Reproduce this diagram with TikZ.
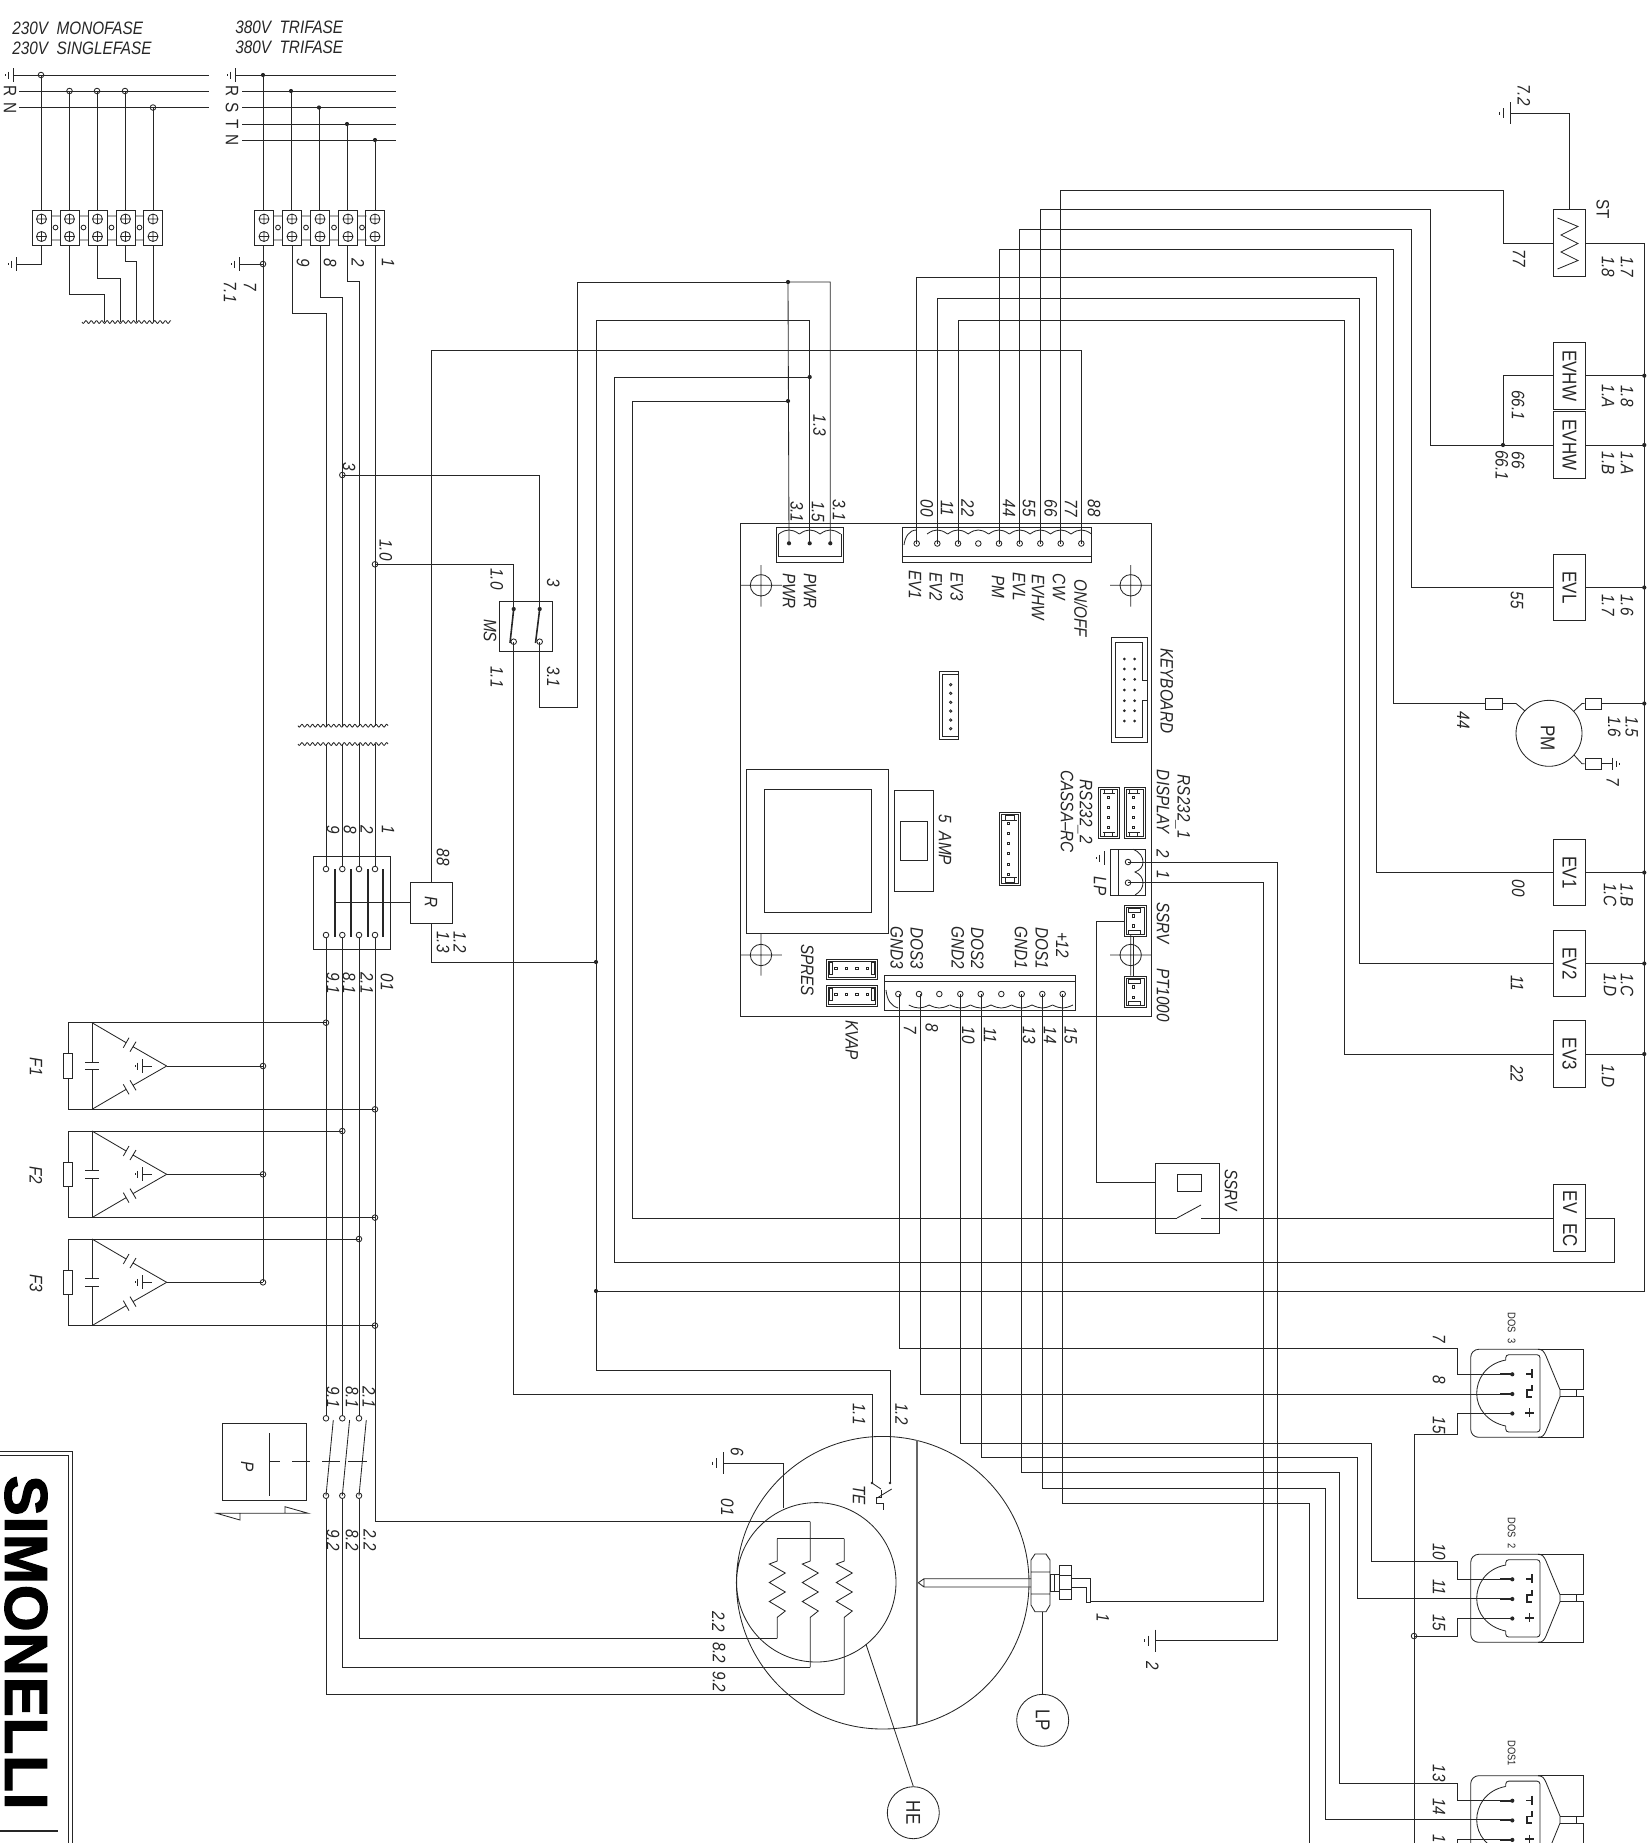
\documentclass[tikz,border=0pt]{standalone}
\usepackage{fontspec}
\setmainfont[FakeStretch=0.85]{Liberation Sans}
\newfontfamily\logofont[LetterSpace=1.5,BoldFeatures={FakeBold=2.2}]{Liberation Sans}
\newcommand\lblfont{\fontsize{9}{9}\selectfont}
\newcount\lbn
\tikzset{
  wire/.style={line width=.42pt,black!85},
  rl/.style={rotate=-90,inner sep=0pt,font=\lblfont\itshape,black!85},
  ru/.style={rotate=-90,inner sep=0pt,font=\lblfont,black!85},
  hl/.style={inner sep=0pt,font=\lblfont\itshape,anchor=west,black!85},
  devbox/.style={draw=black!85,line width=.42pt,inner sep=0pt,font=\lblfont},
  bigtxt/.style={font=\fontsize{10}{10}\selectfont},
}
\newcommand\myLab[3]{\global\advance\lbn by 1 \node[rl] (t\the\lbn) at (#1,#2) {#3};}
\newcommand\myUp[3]{\global\advance\lbn by 1 \node[ru] (t\the\lbn) at (#1,#2) {#3};}
\newcommand\opn[2]{\draw (#1,#2) circle[radius=2.8];}
\newcommand\fdot[2]{\fill (#1,#2) circle[radius=2.1];}
\newcommand\spin[2]{\draw (#1-1.2,#2-1.2) rectangle (#1+1.2,#2+1.2);}
\newcommand\gndL[2]{\draw (#1,#2-7) -- (#1,#2+7) (#1-5,#2-3.5) -- (#1-5,#2+3.5) (#1-7.5,#2-1) -- (#1-7.5,#2+1);}
\newcommand\gndB[2]{\draw (#1,#2-11) -- (#1,#2+11) (#1-7,#2-5) -- (#1-7,#2+5) (#1-11,#2-1.5) -- (#1-11,#2+1.5);}
\newcommand\wav[3]{\draw plot[domain=#1:#2,samples=120] (\x,{#3+1.4*sin((\x-#1)*68)});}
\newcommand\target[4]{\draw (#1,#2) circle[radius=10.7] (#3,#2) -- (#3+41.5,#2) (#1,#4) -- (#1,#4+41.5);}
\newcommand\term[1]{\draw (#1-9.5,210) rectangle (#1+9.5,245.5);
  \foreach \yy in {219,236.5}{\draw (#1,\yy) circle[radius=5] (#1-4.2,\yy) -- (#1+4.2,\yy) (#1,\yy-4.2) -- (#1,\yy+4.2);}}
\newcommand\termlink[1]{\draw (#1+9.5,216) -- (#1+18.5,216) (#1+9.5,240) -- (#1+18.5,240) (#1+14,227.5) circle[radius=2.4];}
\newcommand\scalT[1]{\draw (#1-10.3,534) .. controls (#1-6,531) and (#1-3,530) .. (#1,530) .. controls (#1+3,530) and (#1+6,531) .. (#1+10.3,534);}
\newcommand\scalB[1]{\draw (#1-10.2,1005) .. controls (#1-6,1007) and (#1-3,1008) .. (#1,1008) .. controls (#1+3,1008) and (#1+6,1007) .. (#1+10.2,1005);}
\newcommand\jst[4]{\draw (#1,#2) rectangle (#3,#4) (#1+2,#2+2) rectangle (#3-2,#4-2);}
\newcommand\heater[3]{\draw (#1,#2) -- (#1,1561) -- (#1-8,1564) -- (#1+8,1573) -- (#1-8,1582.5) -- (#1+8,1592) -- (#1-8,1601.5) -- (#1+8,1611) -- (#1,1617.3) -- (#1,#3);}
\newcommand\fuseunit[3]{\begin{scope}[shift={(0,#1)}]
  \draw (#2,0) -- (68.3,0) -- (68.3,31) (63.5,31) rectangle (72.7,55.6) (68.3,55.6) -- (68.3,86.6) -- (375,86.6);
  \draw (92,0) -- (92,39.3) (85,39.3) -- (98.7,39.3) (85,47) -- (98.7,47) (92,47) -- (92,86.6);
  \draw (92,0) -- (126.2,20) (123.3,25) -- (129,15) (130,29) -- (136,19) (133,24) -- (166.7,43.3);
  \draw (92,86.6) -- (126.2,66.6) (123.3,61.6) -- (129,71.6) (130,57.6) -- (136,67.6) (133,62.6) -- (166.7,43.3);
  \draw (166.7,43.3) -- (263,43.3);
  \gndL{142.7}{43.3}
  \draw (142.7,43.3) -- (151.7,43.3);
  \opn{#2}{0} \opn{375}{86.6} \opn{263}{43.3}
  \myLab{36}{44}{#3}
\end{scope}}
\newcommand\dosunit[1]{\begin{scope}[shift={(0,#1)}]
  \draw[rounded corners=4pt] (1540,1349.3) -- (1470.7,1349.3) -- (1470.7,1437.3) -- (1540,1437.3);
  \draw (1538,1349.3) .. controls (1543,1349.3) and (1544,1352) .. (1546,1356) -- (1560,1389.7) -- (1560,1396.7) -- (1546,1431) .. controls (1544,1435) and (1543,1437.3) .. (1538,1437.3);
  \draw (1538,1349.3) -- (1583.3,1349.3) -- (1583.3,1389.7) -- (1560,1389.7) (1560,1396.7) -- (1583.3,1396.7) -- (1583.3,1437.3) -- (1538,1437.3) (1576,1389.7) -- (1576,1396.7);
  \draw[rounded corners=1.5pt] (1505.7,1360) -- (1505.7,1354.7) -- (1540,1354.7) -- (1540,1432) -- (1505.7,1432) -- (1505.7,1426);
  \draw (1505.7,1360) .. controls (1485,1364) and (1476.7,1380) .. (1476.7,1393.5) .. controls (1476.7,1408) and (1487,1422) .. (1505.7,1426);
  \foreach \yy in {1374.3,1394,1413.5}{\draw[line width=.9pt] (1500,\yy) -- (1512.3,\yy); \fdot{1512.3}{\yy}}
  \draw[line width=.8pt] (1526,1374) -- (1532,1374) (1532,1369.3) -- (1532,1378.3);
  \draw[line width=.8pt] (1532,1385) -- (1532,1390) -- (1526.7,1390) -- (1526.7,1396.7) -- (1532,1396.7);
  \draw[line width=.8pt] (1525,1412.7) -- (1534,1412.7) (1529.3,1408.2) -- (1529.3,1417.2);
\end{scope}}
\begin{document}
\begin{tikzpicture}[x=.5pt,y=-.5pt,line width=.42pt,color=black!85]
\useasboundingbox (0,0) rectangle (1652,1843);
\clip (0,0) rectangle (1652,1843);
% ---------- titles
\node[hl] (tt1) at (12,28) {230V\ \ MONOFASE};
\node[hl] (tt2) at (12,48) {230V\ \ SINGLEFASE};
\node[hl] (tt3) at (235,27) {380V\ \ TRIFASE};
\node[hl] (tt4) at (235,47) {380V\ \ TRIFASE};
% ---------- monophase supply
\draw (13,75) -- (209,75) (19,91) -- (209,91) (19,107.5) -- (209,107.5);
\gndL{13}{75}
\myUp{10}{91}{R}\myUp{10}{108}{N}
\foreach \xx/\yy in {41/75,69.5/91,97/91,125/91,153/107.5}{\draw (\xx,\yy) -- (\xx,210); \opn{\xx}{\yy}}
\foreach \xx in {41.5,69.5,97.5,125.5,153}{\term{\xx}}
\foreach \xx in {41.5,69.5,97.5,125.5}{\termlink{\xx}}
\draw (41,245.5) -- (41,264) -- (16,264); \gndL{16}{264}
\draw (69.5,245.5) -- (69.5,294) -- (104.5,294) -- (104.5,322);
\draw (97,245.5) -- (97,278) -- (120.5,278) -- (120.5,322);
\draw (125,245.5) -- (125,261.5) -- (136.5,261.5) -- (136.5,322);
\draw (153,245.5) -- (153,322);
\wav{82}{171}{322}
% ---------- three phase supply
\draw (235,75) -- (396,75) (242,91) -- (396,91) (242,107.5) -- (396,107.5) (242,124) -- (396,124) (242,140) -- (396,140);
\gndL{235}{75}
\myUp{232}{91}{R}\myUp{232}{108}{S}\myUp{232}{124}{T}\myUp{232}{140}{N}
\foreach \xx/\yy in {263/75,291/91,319/107.5,347/124,375/140}{\draw (\xx,\yy) -- (\xx,210); \fdot{\xx}{\yy}}
\foreach \xx in {264,292,320,348,375}{\term{\xx}}
\foreach \xx in {264,292,320,348}{\termlink{\xx}}
\draw (263,245.5) -- (263,1282.3);
\draw (263,264) -- (239,264); \gndL{239}{264} \opn{263}{264}
\draw (292,245.5) -- (292,313) -- (326,313) -- (326,725.7);
\draw (320,245.5) -- (320,297) -- (342.3,297) -- (342.3,725.7);
\draw (347,245.5) -- (347,281) -- (359,281) -- (359,725.7);
\draw (375,245.5) -- (375,725.7);
\myLab{250}{287}{7}\myLab{230}{292}{7.1}\myLab{303}{263}{9}\myLab{330}{263}{8}\myLab{358}{263}{2}\myLab{388}{263}{1}
\wav{298}{388}{725.7}\wav{298}{388}{744}
\draw (326,744) -- (326,866) (342.3,744) -- (342.3,866) (359,744) -- (359,866) (375,744) -- (375,866);
\myLab{333}{830}{9}\myLab{350}{830}{8}\myLab{367}{830}{2}\myLab{388}{830}{1}
% ---------- contactor and R
\node[devbox,minimum width=38.5pt,minimum height=46.5pt] (KM) at (352,902.5) {};
\foreach \xx in {326,342.3,359,375}{\opn{\xx}{869}\opn{\xx}{935}\draw (\xx,938) -- (\xx,1022);}
\foreach \xx in {334.7,351,368,383}{\draw[line width=.9pt] (\xx,869) -- (\xx,937);}
\node[devbox,minimum width=21pt,minimum height=20.5pt] (R) at (431,902.5) {\rotatebox{-90}{\itshape R}};
\coordinate (kmbar) at (334.7,902.5);
\draw (kmbar) -- (R.west);
\myLab{333}{983}{9.1}\myLab{349}{983}{8.1}\myLab{367}{983}{2.1}\myLab{387}{982}{01}
\myLab{443}{857}{88}\myLab{443}{942}{1.3}\myLab{460}{942}{1.2}
\draw (375,938) -- (375,1521.7) -- (810.3,1521.7);
\draw (326,1022) -- (326,1415.5) (342.3,1022) -- (342.3,1415.5) (359,1022) -- (359,1415.5);
% ---------- fuses
\fuseunit{1022.7}{326}{F1}
\fuseunit{1131}{342.3}{F2}
\fuseunit{1239}{359}{F3}
% ---------- pressure switch
\node[devbox,minimum width=42pt,minimum height=38.5pt] (P) at (264.3,1462.2) {};
\myLab{247.3}{1466.7}{P}
\draw (269,1433) -- (269,1495.7);
\draw (269,1461.7) -- (280,1461.7) (292,1461.7) -- (310,1461.7) (322,1461.7) -- (340,1461.7) (348,1461.7) -- (367,1461.7);
\draw (216.7,1513.3) -- (240,1520) -- (240,1513.3) -- (285,1513.3) -- (285,1506.7) -- (308.3,1513.3) -- cycle;
\foreach \xx in {326,342.3,359}{\opn{\xx}{1418.3}\opn{\xx}{1495.7}\draw (\xx,1495.7) -- (\xx+7.3,1420);}
\myLab{333}{1397}{9.1}\myLab{352}{1397}{8.1}\myLab{369}{1397}{2.1}
\myLab{333}{1540}{9.2}\myLab{352}{1540}{8.2}\myLab{370}{1540}{2.2}
\draw (359,1498.5) -- (359,1638.3) -- (777.3,1638.3);
\draw (342.3,1498.5) -- (342.3,1667.3) -- (810.3,1667.3);
\draw (326,1498.5) -- (326,1694.7) -- (844.3,1694.7);
% ---------- logo
\draw (0,1451.7) -- (72.7,1451.7) -- (72.7,1843) (0,1455) -- (68.7,1455) -- (68.7,1843);
\node[rotate=-90,inner sep=0pt,text=black,font=\logofont\fontsize{30}{30}\selectfont\bfseries] (logo) at (26,1642.5) {SIMONELLI};
\draw[line width=1.4pt] (0,1831) -- (58,1831);
% ---------- MS
\node[devbox,minimum width=26.85pt,minimum height=24.65pt] (MS) at (525.85,626.35) {};
\myLab{490}{630.7}{MS}
\coordinate (msA) at (513.7,609); \coordinate (msB) at (539.7,609); \coordinate (msC) at (513.7,641.7); \coordinate (msD) at (539.7,641.7);
\draw[line width=.8pt] (msA) -- (510,643) (msB) -- (535.5,643);
\foreach \xx in {513.7,539.7}{\fdot{\xx}{609}\opn{\xx}{641.7}}
\draw (msA) |- (375,564.3); \opn{375}{564.3}
\draw (msB) |- (342.3,475); \opn{342.3}{475}
\myLab{385.7}{550}{1.0}\myLab{349}{467}{3}
\myLab{496.7}{579}{1.0}\myLab{553.3}{582.7}{3}\myLab{496.7}{677}{1.1}\myLab{553.3}{676.7}{3.1}
% ---------- PCB
\node[devbox,minimum width=205.5pt,minimum height=246.7pt] (PCB) at (945.8,770) {};
\target{761}{585.3}{740.3}{565}\target{1130.7}{585.3}{1110}{565}\target{761}{955}{740.3}{934}\target{1130.7}{955}{1110}{934}
% PWR connector
\draw (776.3,527.3) rectangle (843.3,562.3);
\draw (778.3,534) -- (778.3,556) -- (841,556) -- (841,534);
\foreach \xx in {789,809.7,830.3}{\scalT{\xx}\fdot{\xx}{543.3}}
\coordinate (pwrA) at (789,543.3); \coordinate (pwrB) at (809.7,543.3); \coordinate (pwrC) at (830.3,543.3);
\myLab{796.7}{511.7}{3.1}\myLab{818}{511.7}{1.5}\myLab{839}{510}{3.1}
\myLab{789}{591}{PWR}\myLab{810}{591}{PWR}
% long upper connector
\draw (902.3,527.3) rectangle (1091.7,562.3) (902.3,556.3) -- (1091.7,556.3);
\draw (904,545) .. controls (905,537) and (909,530) .. (916.7,530);
\foreach \xx in {937.3,958,978.3,999,1019.7,1040.3,1060.7,1081.3}{\scalT{\xx}}
\foreach \xx in {916.7,937.3,958,978.3,999,1019.7,1040.3,1060.7,1081.3}{\opn{\xx}{543.5}}
\foreach \nn/\xx in {p00/916.7,p11/937.3,p22/958,p44/999,p55/1019.7,p66/1040.3,p77/1060.7,p88/1081.3}{\coordinate (\nn) at (\xx,543.5);}
\myLab{926.7}{508}{00}\myLab{947}{508}{11}\myLab{967.7}{508}{22}\myLab{1009}{508}{44}\myLab{1029}{508}{55}\myLab{1050.7}{508}{66}\myLab{1071}{508}{77}\myLab{1094}{508}{88}
\myLab{915}{585}{EV1}\myLab{936}{587}{EV2}\myLab{956.7}{587}{EV3}\myLab{998}{586.7}{PM}\myLab{1019}{587}{EVL}\myLab{1038}{597}{EVHW}\myLab{1059}{586.7}{CW}\myLab{1080.7}{608}{ON/OFF}
% keyboard
\draw (1111,637.7) rectangle (1147.7,742.3);
\draw (1147.7,680) -- (1142.7,680) -- (1142.7,642.7) -- (1115.3,642.7) -- (1115.3,737.5) -- (1142.7,737.5) -- (1142.7,700) -- (1147.7,700);
\foreach \yy in {659,669,679.3,690,700.7,710.7,721}{\fill (1124.3,\yy) circle[radius=1.5] (1134.7,\yy) circle[radius=1.5];}
\myLab{1166.7}{690.7}{KEYBOARD}
% small middle connector
\draw (939.3,671.3) rectangle (958.7,739.7) (958.7,674) -- (942,674) -- (942,736) -- (958.7,736);
\foreach \yy in {684.7,693.3,702.3,711,720,728.7}{\draw (950.7,\yy) circle[radius=1.2];}
% transformer
\draw (746.7,769) rectangle (888.7,933.3) (764.3,789.7) rectangle (871.3,912.7);
\draw (894.3,790.3) rectangle (933.3,891) (900.7,821) rectangle (927.3,860);
\myLab{945}{840}{5\ \ AMP}
% vertical connector
\jst{999}{812.3}{1020}{885}
\draw (1002,820) -- (1017,820) (1002,877) -- (1017,877) (1005,815) rectangle (1014,820) (1005,877) rectangle (1014,882);
\foreach \yy in {823.3,833.3,843.3,853.3,864.3,874.3}{\spin{1008.3}{\yy}}
% RS232 connectors
\jst{1098.3}{787.3}{1119}{838.7}
\jst{1124.3}{787.3}{1145.3}{838.7}
\foreach \xx in {1108.7,1133.7}{
  \draw (\xx-6,793) -- (\xx+6,793) (\xx-6,832) -- (\xx+6,832);
  \draw (\xx-4,789.5) rectangle (\xx+4,793) (\xx-4,832) rectangle (\xx+4,836.5);
  \foreach \yy in {797.3,807.7,817.7,827.7}{\spin{\xx}{\yy}}}
\myLab{1182.7}{806.7}{RS232\_1}\myLab{1163}{801.7}{DISPLAY}\myLab{1085}{811.7}{RS232\_2}\myLab{1067}{811.7}{CASSA--RC}
% LP connector
\draw (1110,849.3) rectangle (1145.3,895) (1118.3,849.3) -- (1118.3,895);
\draw (1133,849.3) .. controls (1140,852) and (1143,857) .. (1143,862) .. controls (1143,867) and (1140,870) .. (1135,872) .. controls (1140,874) and (1143,878) .. (1143,882.7) .. controls (1143,888) and (1140,892) .. (1135,895);
\foreach \yy in {862,882.7}{\opn{1128}{\yy}}
\coordinate (lpA) at (1128,862); \coordinate (lpB) at (1128,882.7);
\gndL{1104}{858}
\myLab{1100}{886}{LP}\myLab{1163}{854}{2}\myLab{1163}{875}{1}
% SSRV / PT1000 connectors
\jst{1124.3}{905.7}{1146}{936}
\jst{1124.3}{976.7}{1146}{1007.3}
\foreach \xx/\yy in {1133.7/916,1133.7/926,1133.7/987,1133.7/997.3}{\spin{\xx}{\yy}}
\draw (1128,908) rectangle (1140,912) (1128,930) rectangle (1140,934) (1128,979) rectangle (1140,983) (1128,1001) rectangle (1140,1005);
\draw (1133.7,936) -- (1133.7,976.7);
\coordinate (ssrvpin) at (1124.3,921);
\myLab{1163}{923}{SSRV}\myLab{1163}{995}{PT1000}
% SPRES / KVAP connectors
\jst{826}{959}{877.3}{979.7}
\jst{826}{985}{877.3}{1006.7}
\foreach \yy in {968.3,994.3}{\foreach \xx in {836,846.7,857,867.3}{\spin{\xx}{\yy}}
  \draw (829,\yy-6) rectangle (832,\yy+6) (871,\yy-6) rectangle (874,\yy+6);}
\myLab{807.3}{970}{SPRES}\myLab{851.7}{1040}{KVAP}
% bottom connector
\draw (884,975.7) rectangle (1075.3,1010.7) (884,981.7) -- (1075.3,981.7);
\draw (886,990) .. controls (887,1000) and (891,1006) .. (898.3,1008);
\foreach \xx in {919,939.3,960.3,980.7,1001.3,1021.7,1042.3,1062.7}{\scalB{\xx}}
\foreach \xx in {898.3,919,939.3,960.3,980.7,1001.3,1021.7,1042.3,1062.7}{\opn{\xx}{994}}
\foreach \nn/\xx in {q7/899.7,q8/920.7,q10/960.3,q11/981,q13/1021,q14/1042.3,q15/1062.7}{\coordinate (\nn) at (\xx,994);}
\myLab{896.7}{948}{GND3}\myLab{916.7}{948}{DOS3}\myLab{957.7}{948}{GND2}\myLab{977.3}{948}{DOS2}\myLab{1021}{948}{GND1}\myLab{1041.7}{948}{DOS1}\myLab{1062.3}{945}{+12}
\myLab{910}{1030}{7}\myLab{931.7}{1028}{8}\myLab{968.3}{1035}{10}\myLab{990}{1035}{11}\myLab{1029}{1035}{13}\myLab{1050}{1035}{14}\myLab{1070.7}{1035}{15}
% ---------- right hand devices
\node[devbox,minimum width=16.2pt,minimum height=33.3pt] (ST) at (1569.5,243) {};
\draw (1557.5,218) -- (1578,226.5) -- (1561,235) -- (1578,243.5) -- (1561,252) -- (1578,260.5) -- (1557.5,269);
\node[devbox,bigtxt,minimum width=16.2pt,minimum height=33.3pt] (EVHWa) at (1569.5,375.7) {\rotatebox{-90}{EVHW}};
\node[devbox,bigtxt,minimum width=16.2pt,minimum height=33.3pt] (EVHWb) at (1569.5,445) {\rotatebox{-90}{EVHW}};
\node[devbox,bigtxt,minimum width=16.2pt,minimum height=33.3pt] (EVL) at (1569.5,587.5) {\rotatebox{-90}{EVL}};
\node[devbox,bigtxt,minimum width=16.2pt,minimum height=33.3pt] (EVa) at (1569.5,872.5) {\rotatebox{-90}{EV1}};
\node[devbox,bigtxt,minimum width=16.2pt,minimum height=33.3pt] (EVb) at (1569.5,963.5) {\rotatebox{-90}{EV2}};
\node[devbox,bigtxt,minimum width=16.2pt,minimum height=33.3pt] (EVc) at (1569.5,1054) {\rotatebox{-90}{EV3}};
\node[devbox,minimum width=16.2pt,minimum height=33.3pt] (EVEC) at (1569.5,1218) {};
\node[rotate=-90,inner sep=0pt,bigtxt] (tEV) at (1570,1202) {EV};
\node[rotate=-90,inner sep=0pt,bigtxt] (tEC) at (1570,1235) {EC};
\node[devbox,circle,minimum size=33pt] (PM) at (1549,733.3) {};
\node[rotate=-90,inner sep=0pt,bigtxt] (tPM) at (1547.7,738) {PM};
\node[devbox,minimum width=8.35pt,minimum height=5.5pt] (fuA) at (1493.7,703.5) {};
\node[devbox,minimum width=8.35pt,minimum height=5.5pt] (fuB) at (1593.3,703.5) {};
\node[devbox,minimum width=8.35pt,minimum height=5.5pt] (fuC) at (1593.3,763.7) {};
\draw (fuA.east) -- (1516,703.5) -- (1525,711);
\draw (1574,711) -- (1582,703.5) -- (fuB.west);
\draw (1574,755) -- (1582,763.7) -- (fuC.west);
\coordinate (gnM) at (1612,763.7);
\draw (fuC.east) -- (gnM);
\draw (1612,757.5) -- (1612,770) (1616.5,760.5) -- (1616.5,767) (1619.5,762.7) -- (1619.5,764.7);
\draw (1644.3,243) -- (1644.3,1291) -- (596,1291);
\foreach \nn/\yy in {ST/243,EVHWa/375.7,EVHWb/445,EVL/587.5,EVa/872.5,EVb/963.5,EVc/1054}{\draw (\nn.east) -- (1644.3,\yy);}
\draw (fuB.east) -- (1644.3,703.5);
\foreach \yy in {375.7,445,587.5,703.5,872.5,963.5,1054}{\fdot{1644.3}{\yy}}
\fdot{596}{1291}
\draw (EVHWa.west) -| (1503,445); \fdot{1503}{445}
\draw (1569.3,209.7) |- (1510,113.3); \gndB{1510}{113.3}
% wires from upper connector to devices
\draw (p00) |- (1376,277.5) |- (EVa.west);
\draw (p11) |- (1359,298.6) |- (EVb.west);
\draw (p22) |- (1344,320) |- (EVc.west);
\draw (p44) |- (1393,249) |- (fuA.west);
\draw (p55) |- (1411,229) |- (EVL.west);
\draw (p66) |- (1430,209) |- (EVHWb.west);
\draw (p77) |- (1503,190) |- (ST.west);
\draw (p88) |- (431,350) -- (R.north);
% labels on right
\myLab{1524}{95}{7.2}\myUp{1602.7}{209}{ST}\myLab{1519}{258}{77}\myLab{1627}{266.7}{1.7}\myLab{1608}{266.7}{1.8}
\myLab{1627}{396}{1.8}\myLab{1608}{396}{1.A}\myLab{1518}{405}{66.1}\myLab{1627}{463}{1.A}\myLab{1608}{463}{1.B}\myLab{1518}{460}{66}\myLab{1501.7}{465}{66.1}
\myLab{1517}{600}{55}\myLab{1627}{605}{1.6}\myLab{1608}{605}{1.7}
\myLab{1463.3}{720}{44}\myLab{1631.7}{726.7}{1.5}\myLab{1614.3}{726.7}{1.6}\myLab{1612.7}{781.7}{7}
\myLab{1518.3}{888.3}{00}\myLab{1626.7}{895}{1.B}\myLab{1610}{895}{1.C}
\myLab{1517}{983}{11}\myLab{1627}{985}{1.C}\myLab{1610}{985}{1.D}
\myLab{1517}{1073.5}{22}\myLab{1608}{1076}{1.D}
% ---------- SSRV relay
\node[devbox,minimum width=32pt,minimum height=34.85pt] (SSRV) at (1187.3,1198.2) {};
\myLab{1231}{1190}{SSRV}
\draw (1177,1174.7) rectangle (1201,1191);
% ---------- PWR and supply wiring
\draw (pwrA) -- (788,282) -- (830.3,282) -- (pwrC);
\draw (788,282) -- (577.3,282) -- (577.3,707.7) -- (539.7,707.7) -- (msD);
\fdot{788}{282}
\draw (pwrB) -- (809.7,320) -- (596,320) -- (596,1370) -- (890,1370) -- (890,1483);
\draw (R.south) |- (596,962); \fdot{596}{962}
\fdot{809.7}{377}\fdot{788}{401}
\draw (809.7,377) -- (614,377) -- (614,1262) -- (1614,1262) -- (1614,1218) -- (EVEC.east);
\draw (788,401) -- (632.6,401) -- (632.6,1218) -- (1177,1218);
\coordinate (ssw) at (1177,1218);
\draw (ssw) -- (1201,1205);
\draw (1201,1218) -- (EVEC.west);
\draw (ssrvpin) -- (1096.7,921) -- (1096.7,1182.3) -- (1155.3,1182.3);
\myLab{819.5}{425.6}{1.3}
\draw (msC) -- (513.7,1394.5) -- (872,1394.5) -- (872,1483);
% ---------- boiler
\draw (882.7,1582.7) circle[radius=146.3] (816.3,1582.3) circle[radius=79.7];
\draw[line width=1.3pt,black!60] (917,1440) -- (917,1725);
\draw (918.3,1582.7) -- (924,1578.7) -- (1031,1578.7) (918.3,1582.7) -- (924,1587) -- (1031,1587) (924,1578.7) -- (924,1587);
\draw (1035,1554) -- (1046,1554) -- (1050,1560) -- (1050,1605) -- (1046,1611.7) -- (1035,1611.7) -- (1031,1605) -- (1031,1560) -- cycle (1031,1572) -- (1050,1572) (1031,1594) -- (1050,1594);
\draw (1050,1574) rectangle (1059,1591) (1054,1574) -- (1054,1591);
\draw (1059,1565) rectangle (1071,1599) (1059,1575) -- (1071,1575) (1059,1589) -- (1071,1589);
\draw (1071,1578.7) -- (1090,1578.7) -- (1090,1602) -- (1086,1602) -- (1086,1587) -- (1071,1587);
\coordinate (probe) at (1090,1601.7);
\draw (lpB) -| (1263.5,1601.7) -- (probe);
\draw (lpA) -| (1277,1640.7) -- (1155,1640.7); \gndB{1155}{1640.7}
\myLab{1152.3}{1666}{2}\myLab{1102.7}{1618}{1}
\node[devbox,bigtxt,circle,minimum size=26pt] (LP) at (1042.7,1720.3) {\rotatebox{-90}{LP}};
\node[devbox,bigtxt,circle,minimum size=26pt] (HE) at (913.3,1812.7) {\rotatebox{-90}{HE}};
\draw (1042.7,1611.7) -- (LP.north);
\draw (HE.north) -- (866,1644.3);
% heaters
\heater{777.3}{1538.7}{1638.3}
\heater{810.3}{1521.7}{1667.3}
\heater{844.3}{1538.7}{1694.7}
\draw (777.3,1538.7) -- (844.3,1538.7);
% TE
\fill (872,1483) circle[radius=1.4] (890,1483) circle[radius=1.4];
\draw (872,1483) -- (881,1489) (877,1498) -- (891.7,1489);
\draw (881.7,1490) -- (881.7,1497) -- (876,1497) -- (876,1503) -- (883.3,1503) -- (883.3,1510);
\myLab{859}{1495}{TE}\myLab{859}{1414}{1.1}\myLab{901.7}{1414}{1.2}
% earth 6
\draw (783,1508.3) |- (723,1463); \gndB{723}{1463}
\myLab{737}{1451.7}{6}\myLab{727.3}{1507}{01}\myLab{718.3}{1621.7}{2.2}\myLab{719}{1652.7}{8.2}\myLab{719}{1681.7}{9.2}
% ---------- dosing units
\dosunit{0}\dosunit{205}\dosunit{426.4}
\foreach \lb/\yy in {DOS\ \ 3/1328,DOS\ \ 2/1533,DOS1/1753}{\node[rotate=-90,inner sep=0pt,font=\fontsize{5.5}{5.5}\selectfont] at (1511.7,\yy) {\lb};}
\draw (q7) |- (1457.3,1348.7) |- (1512.3,1374.3);
\draw (q8) |- (1512.3,1394.3);
\draw (1512.3,1413.3) -| (1457.3,1434.3) -- (1414,1434.3) -- (1414,1843);
\draw (q10) |- (1371,1443.3) |- (1457.3,1561.7) |- (1512.3,1579);
\draw (q11) |- (1357,1457.3) |- (1512.3,1598.7);
\draw (1512.3,1618) -| (1457.3,1636) -- (1414,1636); \opn{1414}{1636}
\draw (q13) |- (1339.3,1472.3) |- (1457.3,1783) |- (1512.3,1800.3);
\draw (q14) |- (1325.7,1488.7) |- (1512.3,1819.3);
\draw (q15) |- (1309,1503.3) -- (1309,1843);
\draw (1512.3,1839.3) -| (1457.3,1843);
\myLab{1439}{1339}{7}\myLab{1439}{1380}{8}\myLab{1439}{1425}{15}
\myLab{1439}{1551.7}{10}\myLab{1439}{1587}{11}\myLab{1439}{1622.7}{15}
\myLab{1439}{1773}{13}\myLab{1439}{1806.7}{14}\myLab{1439}{1843}{15}
\end{tikzpicture}
\end{document}
